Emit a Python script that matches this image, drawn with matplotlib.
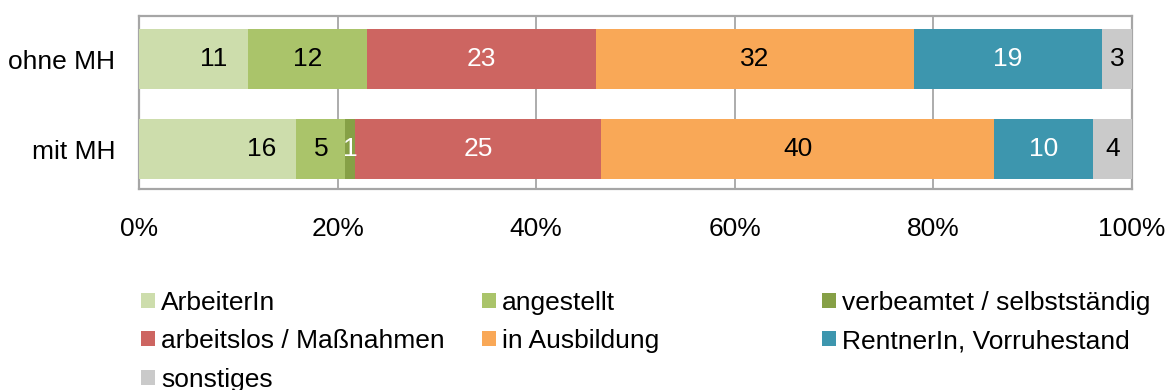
import matplotlib.pyplot as plt
import numpy as np

plt.rcParams['font.family'] = ['Liberation Sans', 'DejaVu Sans']

groups = ['ohne MH', 'mit MH']
categories = ['ArbeiterIn', 'angestellt', 'verbeamtet / selbstständig',
              'arbeitslos / Maßnahmen', 'in Ausbildung',
              'RentnerIn, Vorruhestand', 'sonstiges']
ohne_mh = [11, 12, 0, 23, 32, 19, 3]
mit_mh = [16, 5, 1, 25, 40, 10, 4]
colors = ['#CDDDAC', '#AAC46A', '#86A046', '#CD6561', '#F9A857', '#3D96AE', '#CACACA']
text_colors = ['black', 'black', 'white', 'white', 'black', 'white', 'black']
ticks = [0, 0.2, 0.4, 0.6, 0.8, 1.0]
tick_labels = ['0%', '20%', '40%', '60%', '80%', '100%']

values = np.array([ohne_mh, mit_mh], dtype=float)
shares = values / values.sum(axis=1, keepdims=True)

fs = 19

fig = plt.figure(figsize=(11.66, 3.9), dpi=100)
ax = fig.add_axes([139 / 1166, 1 - 189 / 390, 993 / 1166, 173 / 390])

y = np.arange(len(groups))
left = np.zeros(len(groups))
bars = []
for i, cat in enumerate(categories):
    b = ax.barh(y, shares[:, i], left=left, height=0.667, color=colors[i],
                label=cat, zorder=3)
    bars.append(b)
    for j in range(len(groups)):
        if values[j, i] == 0:
            continue
        if i == 0:
            # first segment: label sits near the right end
            ax.annotate(f'{values[j, i]:.0f}', (left[j] + shares[j, i], y[j]),
                        xytext=(-25, 0), textcoords='offset points',
                        ha='center', va='center', fontsize=fs,
                        color=text_colors[i], zorder=4)
        else:
            ax.text(left[j] + shares[j, i] / 2, y[j], f'{values[j, i]:.0f}',
                    ha='center', va='center', fontsize=fs,
                    color=text_colors[i], zorder=4)
    left += shares[:, i]

ax.set_xlim(0, 1)
ax.set_ylim(1.444, -0.478)
ax.set_yticks(y)
ax.set_yticklabels(groups, fontsize=fs)
ax.set_xticks(ticks)
ax.set_xticklabels(tick_labels, fontsize=fs)
ax.tick_params(length=0)
ax.tick_params(axis='x', pad=20)
ax.tick_params(axis='y', pad=17)
ax.grid(axis='x', color='#A6A6A6', linewidth=1.3, zorder=0)
for s in ax.spines.values():
    s.set_color('#A6A6A6')
    s.set_linewidth(1.6)

# legend in three fixed columns
cols = [[0, 3, 6], [1, 4], [2, 5]]
col_x = [141 / 1166, 482 / 1166, 822 / 1166]
for cx, idx in zip(col_x, cols):
    fig.legend([bars[k] for k in idx], [categories[k] for k in idx],
               loc='upper left', bbox_to_anchor=(cx, 1 - 291 / 390),
               frameon=False, fontsize=fs, handlelength=0.53,
               handleheight=0.5, handletextpad=0.23, labelspacing=0.54,
               borderpad=0, borderaxespad=0)

fig.savefig('out.png', dpi=100)
